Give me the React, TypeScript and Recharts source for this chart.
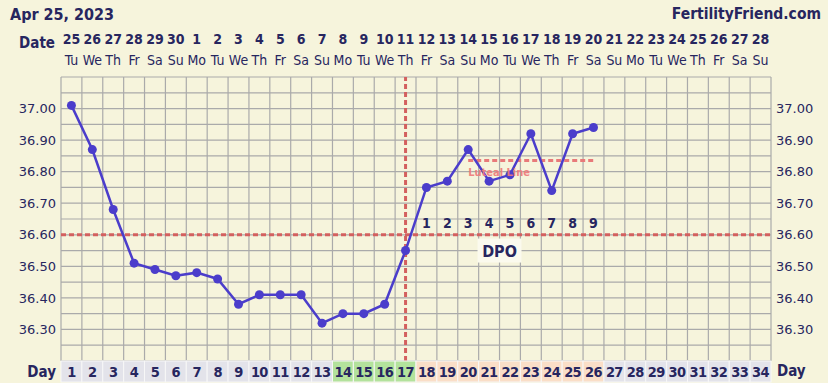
import React from "react"
import {
  ComposedChart,
  Line,
  XAxis,
  YAxis,
  CartesianGrid,
  ReferenceLine,
  ReferenceDot,
} from "recharts"

document.body.style.margin = "0"

// chart data
const days = [1, 2, 3, 4, 5, 6, 7, 8, 9, 10, 11, 12, 13, 14, 15, 16, 17, 18, 19, 20, 21, 22, 23, 24, 25, 26, 27, 28, 29, 30, 31, 32, 33, 34]
const dateLabels = ["25", "26", "27", "28", "29", "30", "1", "2", "3", "4", "5", "6", "7", "8", "9", "10", "11", "12", "13", "14", "15", "16", "17", "18", "19", "20", "21", "22", "23", "24", "25", "26", "27", "28"]
const weekdays = ["Tu", "We", "Th", "Fr", "Sa", "Su", "Mo", "Tu", "We", "Th", "Fr", "Sa", "Su", "Mo", "Tu", "We", "Th", "Fr", "Sa", "Su", "Mo", "Tu", "We", "Th", "Fr", "Sa", "Su", "Mo", "Tu", "We", "Th", "Fr", "Sa", "Su"]
const temps = [37.01, 36.87, 36.68, 36.51, 36.49, 36.47, 36.48, 36.46, 36.38, 36.41, 36.41, 36.41, 36.32, 36.35, 36.35, 36.38, 36.55, 36.75, 36.77, 36.87, 36.77, 36.79, 36.92, 36.74, 36.92, 36.94]
const phases = ["n", "n", "n", "n", "n", "n", "n", "n", "n", "n", "n", "n", "n", "f", "f", "f", "f", "l", "l", "l", "l", "l", "l", "l", "l", "l", "n", "n", "n", "n", "n", "n", "n", "n"]
const dpoDays = [18, 19, 20, 21, 22, 23, 24, 25, 26]
const dpoLabels = ["1", "2", "3", "4", "5", "6", "7", "8", "9"]
const yTicks = [36.3, 36.4, 36.5, 36.6, 36.7, 36.8, 36.9, 37.0]
const coverLine = 36.6
const ovulationDay = 17
const lutealLevel = 36.835
const lutealStart = 20
const lutealEnd = 26
const dpoLevel = 36.638
const dpoTitleDay = 21.5
const dpoTitleLevel = 36.55

const W = 828
const H = 383
const PLOT_LEFT = 61
const PLOT_RIGHT = 771
const PLOT_TOP = 77
const PLOT_BOTTOM = 361
const CELL_W = (PLOT_RIGHT - PLOT_LEFT) / days.length

const BG = "#f6f4dc"
const NAVY = "#27265f"
const RED = "#d3605f"
const LINE = "#4b3dcb"
const FONT = "'DejaVu Sans Condensed', 'DejaVu Sans', sans-serif"
const phaseColor: Record<string, string> = { n: "#e3e3ea", f: "#b3e29c", l: "#fadec7" }

const gridX = [0, ...days].map((d) => d + 0.5)
const gridY = Array.from({ length: 19 }, (_, i) => Math.round((36.2 + i * 0.05) * 100) / 100)

const chartData = days.map((d, i) => ({
  day: d,
  temp: i < temps.length ? temps[i] : null,
  lutealLabel: d === lutealStart ? lutealLevel : null,
}))

function DateTick(props: any) {
  const { x, payload } = props
  const i = payload.value - 1
  return (
    <g>
      <text x={x} y={44} textAnchor="middle" fill={NAVY} fontFamily={FONT} fontWeight="bold" fontSize={14}>
        {dateLabels[i]}
      </text>
      <text x={x} y={65} textAnchor="middle" fill={NAVY} fontFamily={FONT} fontSize={14}>
        {weekdays[i]}
      </text>
    </g>
  )
}

function DayCell(props: any) {
  const { x, payload } = props
  const i = payload.value - 1
  return (
    <g>
      <rect
        x={x - CELL_W / 2}
        y={PLOT_BOTTOM}
        width={CELL_W}
        height={H - PLOT_BOTTOM - 1}
        fill={phaseColor[phases[i]]}
        stroke="#f7f7f7"
        strokeWidth={1}
      />
      <text x={x} y={377} textAnchor="middle" fill={NAVY} fontFamily={FONT} fontWeight="bold" fontSize={14.5} letterSpacing={-0.6}>
        {days[i]}
      </text>
    </g>
  )
}

function LutealLabel(props: any) {
  const { cx, cy, payload } = props
  if (payload.lutealLabel == null || cx == null || cy == null) return <g />
  return (
    <text x={cx} y={cy + 15} fill="#ef7b7b" fontFamily={FONT} fontWeight="bold" fontSize={11} opacity={0.92}>
      Luteal Line
    </text>
  )
}

const yTickStyle = { fontSize: 13, fill: NAVY, fontFamily: "'DejaVu Sans', sans-serif" }

export default function App() {
  return (
    <div style={{ position: "relative", width: W, height: H, background: BG }}>
      <ComposedChart width={W} height={H} data={chartData} margin={{ top: 0, right: 0, bottom: 0, left: 0 }}>
        <XAxis xAxisId="zgrid" type="number" dataKey="day" domain={[0.5, 34.5]} ticks={gridX} interval={0} height={0} hide />
        <YAxis yAxisId="zgrid" type="number" domain={[36.2, 37.1]} ticks={gridY} interval={0} width={0} hide allowDataOverflow />
        <CartesianGrid xAxisId="zgrid" yAxisId="zgrid" stroke="#aaaaaa" strokeWidth={1.2} />

        <XAxis
          xAxisId="top"
          orientation="top"
          type="number"
          dataKey="day"
          domain={[0.5, 34.5]}
          ticks={days}
          interval={0}
          height={PLOT_TOP}
          axisLine={false}
          tickLine={false}
          tick={(p: any) => <DateTick {...p} />}
        />
        <XAxis
          xAxisId="bottom"
          orientation="bottom"
          type="number"
          dataKey="day"
          domain={[0.5, 34.5]}
          ticks={days}
          interval={0}
          height={H - PLOT_BOTTOM}
          axisLine={false}
          tickLine={false}
          tick={(p: any) => <DayCell {...p} />}
        />
        <YAxis
          yAxisId="left"
          type="number"
          domain={[36.2, 37.1]}
          ticks={yTicks}
          interval={0}
          width={PLOT_LEFT}
          axisLine={false}
          tickLine={false}
          tickSize={5}
          tickMargin={0}
          allowDataOverflow
          tick={yTickStyle}
          tickFormatter={(v: number) => v.toFixed(2)}
        />
        <YAxis
          yAxisId="right"
          orientation="right"
          type="number"
          domain={[36.2, 37.1]}
          ticks={yTicks}
          interval={0}
          width={W - PLOT_RIGHT}
          axisLine={false}
          tickLine={false}
          tickSize={5}
          tickMargin={0}
          allowDataOverflow
          tick={yTickStyle}
          tickFormatter={(v: number) => v.toFixed(2)}
        />

        <ReferenceLine xAxisId="bottom" yAxisId="left" y={coverLine} stroke={RED} strokeWidth={3} strokeDasharray="5 3" />
        <ReferenceLine xAxisId="bottom" yAxisId="left" x={ovulationDay} stroke={RED} strokeWidth={3} strokeDasharray="5 3" />
        <ReferenceLine
          xAxisId="bottom"
          yAxisId="left"
          segment={[{ x: lutealStart, y: lutealLevel }, { x: lutealEnd, y: lutealLevel }]}
          stroke="#e87a7a"
          strokeWidth={3}
          strokeDasharray="5 3"
        />
        {dpoDays.map((d, i) => (
          <ReferenceDot
            key={d}
            xAxisId="bottom"
            yAxisId="left"
            x={d}
            y={dpoLevel}
            shape={(p: any) => (
              <text x={p.cx} y={p.cy + 5} textAnchor="middle" fill={NAVY} fontFamily={FONT} fontWeight="bold" fontSize={14}>
                {dpoLabels[i]}
              </text>
            )}
          />
        ))}
        <ReferenceDot
          xAxisId="bottom"
          yAxisId="left"
          x={dpoTitleDay}
          y={dpoTitleLevel}
          shape={(p: any) => (
            <g>
              <rect x={p.cx - 22} y={p.cy - 12} width={44} height={24} fill="#fbfaee" />
              <text x={p.cx} y={p.cy + 6} textAnchor="middle" fill={NAVY} fontFamily={FONT} fontWeight="bold" fontSize={16}>
                DPO
              </text>
            </g>
          )}
        />

        <Line
          xAxisId="bottom"
          yAxisId="left"
          type="linear"
          dataKey="temp"
          stroke={LINE}
          strokeWidth={2.5}
          dot={{ r: 4.5, fill: LINE, stroke: LINE, strokeWidth: 0 }}
          connectNulls={false}
          isAnimationActive={false}
        />
        <Line
          xAxisId="bottom"
          yAxisId="left"
          type="linear"
          dataKey="lutealLabel"
          stroke="none"
          dot={(p: any) => <LutealLabel key={p.index} {...p} />}
          activeDot={false}
          connectNulls={false}
          isAnimationActive={false}
        />
      </ComposedChart>

      <svg width={W} height={H} style={{ position: "absolute", left: 0, top: 0, pointerEvents: "none" }}>
        <text x={10} y={20} fill={NAVY} fontFamily={FONT} fontWeight="bold" fontSize={16}>
          Apr 25, 2023
        </text>
        <text x={821} y={19} textAnchor="end" fill={NAVY} fontFamily={FONT} fontWeight="bold" fontSize={15.5}>
          FertilityFriend.com
        </text>
        <text x={55} y={48} textAnchor="end" fill={NAVY} fontFamily={FONT} fontWeight="bold" fontSize={15}>
          Date
        </text>
        <text x={56} y={377} textAnchor="end" fill={NAVY} fontFamily={FONT} fontWeight="bold" fontSize={15}>
          Day
        </text>
        <text x={777} y={376} fill={NAVY} fontFamily={FONT} fontWeight="bold" fontSize={15}>
          Day
        </text>
      </svg>
    </div>
  )
}
